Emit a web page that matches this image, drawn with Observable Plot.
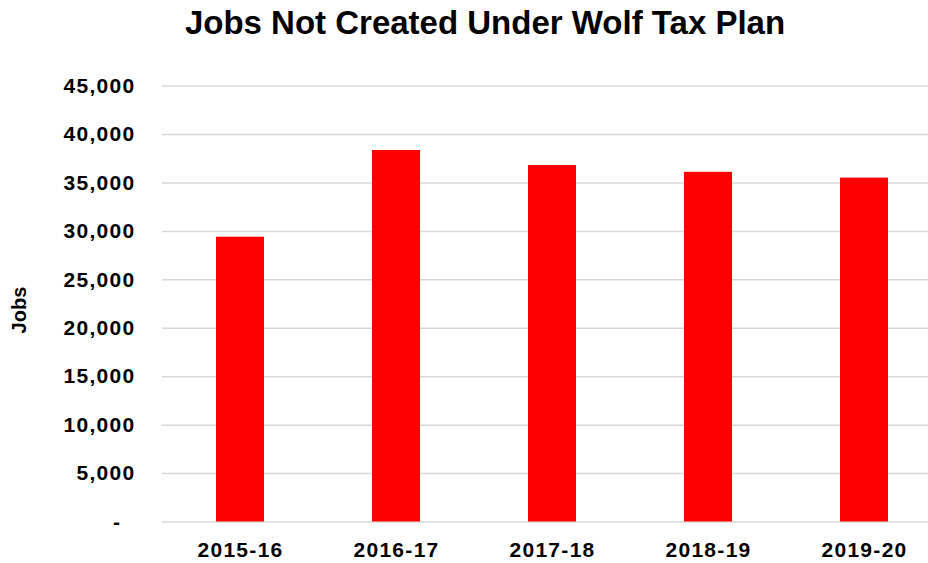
<!DOCTYPE html>
<html>
<head>
<meta charset="utf-8">
<script src="https://cdn.jsdelivr.net/npm/d3@7"></script>
<script src="https://cdn.jsdelivr.net/npm/@observablehq/plot@0.6"></script>
<style>
  html, body { margin: 0; padding: 0; background: #fff; overflow: hidden; }
  #title {
    box-sizing: border-box;
    width: 928px; height: 52px;
    padding-left: 42px; padding-top: 3px;
    text-align: center;
    font-family: "Liberation Sans", Arial, sans-serif;
    font-weight: bold; font-size: 33px; line-height: 40px;
    color: #000; white-space: nowrap;
  }
  #chart svg g[aria-label="x-axis tick label"] text,
  #chart svg g[aria-label="y-axis tick label"] text { letter-spacing: 1.3px; }
</style>
</head>
<body>
<div id="title"></div>
<div id="chart"></div>
<script>
const chartTitle = "Jobs Not Created Under Wolf Tax Plan";
const yLabel = "Jobs";
const years = ["2015-16", "2016-17", "2017-18", "2018-19", "2019-20"];
const jobs = [29400, 38350, 36800, 36100, 35500];
const yTicks = [0, 5000, 10000, 15000, 20000, 25000, 30000, 35000, 40000, 45000];

document.getElementById("title").textContent = chartTitle;

const data = years.map((year, i) => ({year, jobs: jobs[i]}));
const fmt = d3.format(",");

const chart = Plot.plot({
  width: 928,
  height: 511,
  marginTop: 33.6,
  marginBottom: 41.5,
  marginLeft: 162,
  marginRight: 0,
  style: {fontFamily: "Liberation Sans", fontSize: "21px", fontWeight: "bold", color: "#000", background: "#fff", overflow: "hidden"},
  x: {domain: years, range: [162, 942], paddingInner: 0.692, paddingOuter: 0.346, label: null, tickSize: 0, tickPadding: 20},
  y: {domain: [0, 45000], ticks: yTicks, tickFormat: d => d === 0 ? "-\u00a0\u00a0" : fmt(d), tickSize: 0, tickPadding: 27, label: null},
  marks: [
    Plot.gridY(yTicks, {stroke: "#d9d9d9", strokeOpacity: 1, strokeWidth: 1.5}),
    Plot.barY(data, {x: "year", y: "jobs", fill: "#ff0000"}),
    Plot.text([yLabel], {frameAnchor: "left", textAnchor: "middle", rotate: -90, dx: -143, dy: 6, text: d => d, fontSize: 20, fontWeight: "bold", fill: "#000"})
  ]
});
document.getElementById("chart").appendChild(chart);
</script>
</body>
</html>
